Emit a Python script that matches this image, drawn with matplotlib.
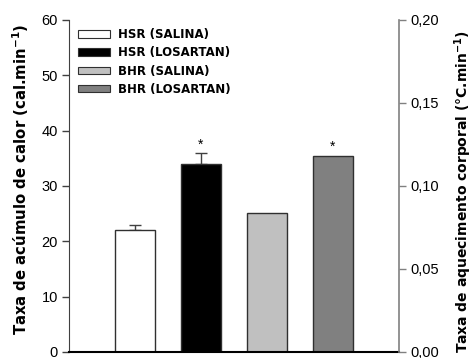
import matplotlib
matplotlib.use("Agg")
import matplotlib.pyplot as plt
from matplotlib.patches import Patch

plt.rcParams['font.family'] = ['Liberation Sans', 'DejaVu Sans']
plt.rcParams['mathtext.fontset'] = 'dejavusans'

groups = ["HSR (SALINA)", "HSR (LOSARTAN)", "BHR (SALINA)", "BHR (LOSARTAN)"]
values = [22.0, 34.0, 25.2, 35.5]
errors = [1.0, 1.9, 0.0, 0.0]
signif = [False, True, False, True]
colors = ["#ffffff", "#000000", "#c0c0c0", "#808080"]
left_ticks = [0, 10, 20, 30, 40, 50, 60]
right_ticks = [0.0, 0.05, 0.10, 0.15, 0.20]
right_labels = ["0,00", "0,05", "0,10", "0,15", "0,20"]

fig = plt.figure(figsize=(4.75, 3.58), dpi=100)
ax = fig.add_axes([0.1453, 0.0168, 0.6947, 0.9274])
x = list(range(1, len(values) + 1))
for xi, v, e, c in zip(x, values, errors, colors):
    ax.bar(xi, v, width=0.6, color=c, edgecolor="#303030", linewidth=1.0, zorder=2)
    if e > 0:
        ax.errorbar(xi, v, yerr=[[0], [e]], fmt='none', ecolor="#404040",
                    elinewidth=1.0, capsize=4, capthick=1.0, zorder=1)
for xi, v, e, s in zip(x, values, errors, signif):
    if s:
        ax.text(xi, v + e + 0.3, "*", ha='center', va='bottom', fontsize=10)

ax.set_xlim(0, 5)
ax.set_ylim(0, 60)
ax.set_yticks(left_ticks)
ax.set_xticks([])
ax.tick_params(axis='y', labelsize=10.5, direction='out', length=5, width=1, color="#404040", pad=3)
for s in ['top', 'right']:
    ax.spines[s].set_visible(False)
ax.spines['left'].set_color("#404040")
ax.spines['bottom'].set_color("#000000")
ax.spines['bottom'].set_linewidth(1.5)

ax2 = ax.twinx()
ax2.set_ylim(0, 0.2)
ax2.set_yticks(right_ticks)
ax2.set_yticklabels(right_labels)
ax2.tick_params(axis='y', labelsize=10.5, direction='out', length=5, width=1, color="#808080", pad=3)
for s in ['top', 'left', 'bottom']:
    ax2.spines[s].set_visible(False)
ax2.spines['right'].set_color("#808080")
ax2.spines['right'].set_linewidth(1.2)

fig.text(21 / 475, 0.5, "Taxa de acúmulo de calor (cal.min$^{\\mathbf{-1}}$)",
         rotation=90, ha='center', va='center', fontsize=10.7, fontweight='bold', family='DejaVu Sans')
fig.text(463 / 475, 0.4637, "Taxa de aquecimento corporal (°C.min$^{\\mathbf{-1}}$)",
         rotation=90, ha='center', va='center', fontsize=10.0, fontweight='bold', family='DejaVu Sans')

handles = [Patch(facecolor=c, edgecolor="#303030", linewidth=0.8) for c in colors]
leg = ax.legend(handles, groups, loc='upper left', bbox_to_anchor=(0.027, 0.976), frameon=False,
                prop={'weight': 'bold', 'size': 8.5, 'family': 'DejaVu Sans'},
                handlelength=2.7, handleheight=0.6,
                labelspacing=0.45, handletextpad=0.68, borderpad=0, borderaxespad=0)

fig.savefig("out.png", dpi=100)
